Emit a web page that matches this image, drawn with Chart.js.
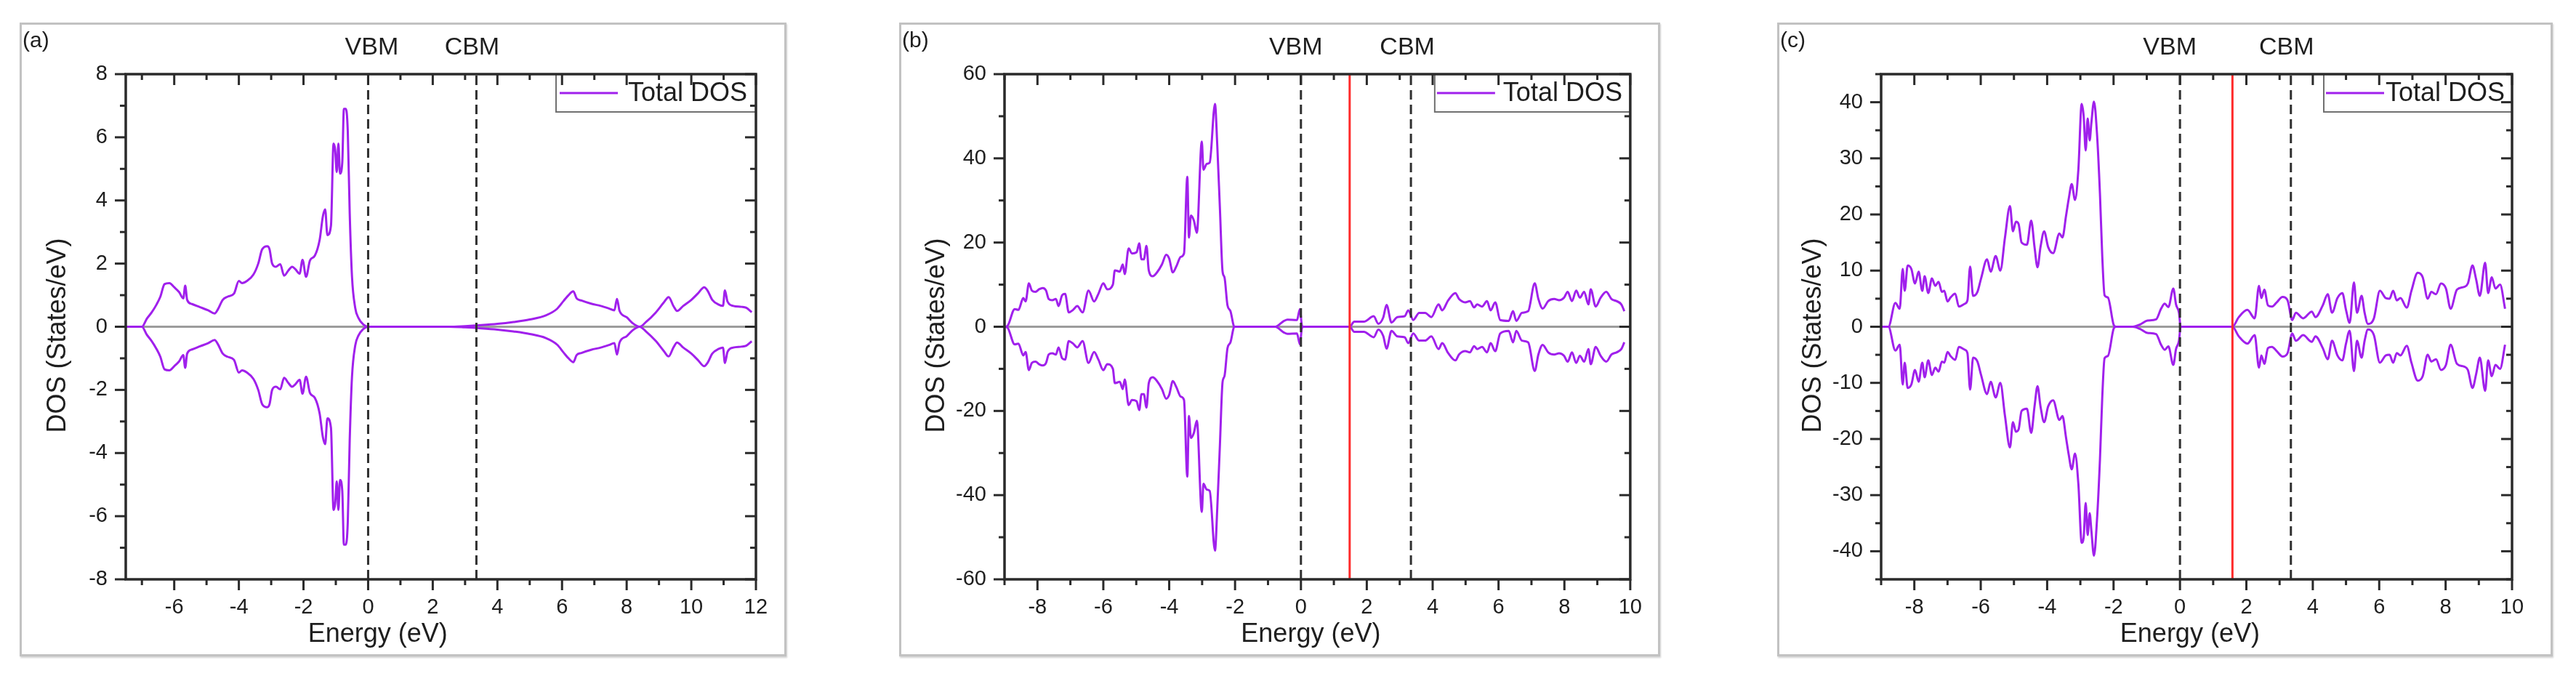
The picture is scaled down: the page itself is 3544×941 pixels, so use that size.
<!DOCTYPE html>
<html>
<head>
<meta charset="utf-8">
<title>Total DOS (a) (b) (c)</title>
<script src="https://cdn.jsdelivr.net/npm/chart.js@4/dist/chart.umd.min.js"></script>
<style>
  html, body { margin: 0; background: #fff; }
  body { width: 3544px; height: 941px; position: relative; overflow: hidden; }
  .panel { position: absolute; box-sizing: border-box; border: 3px solid #c2c2c2; box-shadow: 1px 2px 2px rgba(0,0,0,.18); background: #fff; }
  .panel canvas { display: block; }
</style>
</head>
<body>
<div class="panel" id="pa"><canvas></canvas></div>
<div class="panel" id="pb"><canvas></canvas></div>
<div class="panel" id="pc"><canvas></canvas></div>
<script>
// ---- data (energy in eV, DOS in states/eV) ----
// (a)
const aEnergy = [-7.47,-7.0,-6.85,-6.7,-6.55,-6.43,-6.3,-6.15,-6.0,-5.85,
  -5.72,-5.66,-5.6,-5.45,-5.2,-4.95,-4.75,-4.65,-4.5,-4.35,
  -4.15,-4.0,-3.9,-3.75,-3.55,-3.4,-3.28,-3.12,-3.05,-2.97,
  -2.85,-2.72,-2.6,-2.47,-2.35,-2.25,-2.12,-2.03,-1.92,-1.8,
  -1.65,-1.5,-1.4,-1.33,-1.26,-1.15,-1.07,-1.02,-0.97,-0.92,
  -0.87,-0.8,-0.75,-0.69,-0.63,-0.57,-0.5,-0.4,-0.3,-0.15,
  0,2.5,3.0,3.5,4.0,4.5,5.0,5.5,5.85,6.05,
  6.2,6.35,6.45,6.6,6.9,7.2,7.45,7.62,7.7,7.78,
  8.0,8.2,8.4,8.6,8.9,9.15,9.3,9.45,9.56,9.75,
  10.0,10.2,10.4,10.5,10.65,10.85,10.98,11.04,11.12,11.3,
  11.55,11.7,11.87];
const aUp = [0,0,0.25,0.45,0.7,0.95,1.35,1.38,1.25,1.1,
  0.9,1.3,0.85,0.72,0.62,0.52,0.42,0.55,0.85,0.95,
  1.05,1.45,1.38,1.45,1.65,2.0,2.45,2.55,2.45,2.0,
  1.9,1.98,1.62,1.78,1.9,1.82,1.68,2.12,1.58,2.1,
  2.25,2.75,3.5,3.72,2.9,3.2,5.8,5.6,4.9,5.8,
  4.85,5.2,6.9,6.9,6.2,3.6,1.6,0.6,0.28,0.07,
  0,0,0.02,0.05,0.09,0.15,0.23,0.36,0.57,0.82,
  1.0,1.12,0.9,0.83,0.73,0.66,0.58,0.52,0.88,0.5,
  0.3,0.1,0,0.15,0.45,0.77,0.94,0.65,0.5,0.66,
  0.85,1.05,1.25,1.15,0.85,0.7,0.66,1.15,0.8,0.66,
  0.63,0.6,0.46];
const aDown = [0,0,-0.25,-0.45,-0.7,-0.95,-1.35,-1.38,-1.25,-1.1,
  -0.9,-1.3,-0.85,-0.72,-0.62,-0.52,-0.42,-0.55,-0.85,-0.95,
  -1.05,-1.45,-1.38,-1.45,-1.65,-2.0,-2.45,-2.55,-2.45,-2.0,
  -1.9,-1.98,-1.62,-1.78,-1.9,-1.82,-1.68,-2.12,-1.58,-2.1,
  -2.25,-2.75,-3.5,-3.72,-2.9,-3.2,-5.8,-5.6,-4.9,-5.8,
  -4.85,-5.2,-6.9,-6.9,-6.2,-3.6,-1.6,-0.6,-0.28,-0.07,
  0,0,-0.02,-0.05,-0.09,-0.15,-0.23,-0.36,-0.57,-0.82,
  -1.0,-1.12,-0.9,-0.83,-0.73,-0.66,-0.58,-0.52,-0.88,-0.5,
  -0.3,-0.1,0,-0.15,-0.45,-0.77,-0.94,-0.65,-0.5,-0.66,
  -0.85,-1.05,-1.25,-1.15,-0.85,-0.7,-0.66,-1.15,-0.8,-0.66,
  -0.63,-0.6,-0.46];

// (b)
const bEnergy = [-8.99,-8.91,-8.69,-8.58,-8.43,-8.36,-8.26,-8.17,-8.06,-7.95,
  -7.84,-7.74,-7.66,-7.55,-7.44,-7.36,-7.25,-7.16,-7.05,-6.92,
  -6.79,-6.63,-6.45,-6.28,-6.15,-6.0,-5.88,-5.71,-5.65,-5.5,
  -5.41,-5.35,-5.23,-5.13,-4.99,-4.91,-4.84,-4.77,-4.69,-4.62,
  -4.5,-4.37,-4.22,-4.09,-4.0,-3.89,-3.78,-3.65,-3.55,-3.45,
  -3.4,-3.34,-3.25,-3.16,-3.01,-2.96,-2.86,-2.77,-2.61,-2.54,
  -2.46,-2.38,-2.32,-2.23,-2.14,-2.02,-0.78,-0.52,-0.41,-0.12,
  -0.03,0.03,0.08,1.48,1.62,1.91,2.21,2.35,2.5,2.6,
  2.75,2.93,3.15,3.26,3.41,3.59,3.77,3.96,4.18,4.29,
  4.47,4.69,4.8,4.99,5.13,5.26,5.35,5.5,5.65,5.76,
  5.9,6.05,6.31,6.44,6.54,6.71,6.9,7.1,7.21,7.34,
  7.51,7.69,7.84,7.99,8.1,8.23,8.36,8.47,8.6,8.73,
  8.8,8.95,9.1,9.27,9.43,9.58,9.73,9.82];
const bUp = [0,0.2,4.2,4.0,6.8,6.0,10.3,8.6,8.3,8.9,
  9.2,8.6,6.6,6.3,6.6,4.9,7.5,7.8,3.4,4.0,
  4.9,3.4,8.6,6.0,7.8,10.3,8.9,10.0,13.4,13.1,
  14.8,12.5,18.6,17.4,17.7,19.8,16.0,16.0,19.2,13.4,
  12.0,12.9,14.8,17.1,16.2,12.9,14.4,16.6,17.4,35.6,
  21.2,26.4,25.2,22.3,44.0,37.3,38.7,39.0,52.9,43.1,
  28.1,13.2,11.7,5.1,3.7,0,0,1.35,1.7,1.6,
  4.2,0.3,0,0,1.2,1.2,2.5,0.7,2.2,5.2,
  1.0,2.3,2.5,3.9,1.6,3.3,3.3,2.3,5.3,3.9,
  6.25,8.0,6.6,5.8,6.1,4.6,5.3,4.8,6.1,3.9,
  5.8,1.6,1.4,3.7,1.4,3.3,3.7,10.3,6.6,4.3,
  6.1,6.6,6.3,6.9,8.3,6.1,8.6,6.9,8.3,5.3,
  8.9,4.8,6.9,8.3,6.6,6.1,5.3,3.7];
const bDown = [0,-0.2,-4.2,-4.0,-6.8,-6.0,-10.3,-8.6,-8.3,-8.9,
  -9.2,-8.6,-6.6,-6.3,-6.6,-4.9,-7.5,-7.8,-3.4,-4.0,
  -4.9,-3.4,-8.6,-6.0,-7.8,-10.3,-8.9,-10.0,-13.4,-13.1,
  -14.8,-12.5,-18.6,-17.4,-17.7,-19.8,-16.0,-16.0,-19.2,-13.4,
  -12.0,-12.9,-14.8,-17.1,-16.2,-12.9,-14.4,-16.6,-17.4,-35.6,
  -21.2,-26.4,-25.2,-22.3,-44.0,-37.3,-38.7,-39.0,-53.2,-43.1,
  -28.1,-13.2,-11.7,-5.1,-3.7,0,0,-1.35,-1.7,-1.6,
  -4.2,-0.3,0,0,-1.2,-1.2,-2.5,-0.7,-2.2,-5.2,
  -1.0,-2.3,-2.5,-3.9,-1.6,-3.3,-3.3,-2.3,-5.3,-3.9,
  -6.25,-8.0,-6.6,-5.8,-6.1,-4.6,-5.3,-4.8,-6.1,-3.9,
  -5.8,-1.6,-1.0,-3.7,-1.0,-3.3,-3.7,-10.5,-6.6,-4.3,
  -6.1,-6.6,-6.3,-6.9,-8.3,-6.1,-8.6,-6.9,-8.3,-5.3,
  -8.9,-4.8,-6.9,-8.3,-6.6,-6.1,-5.3,-3.7];

// (c)
const cEnergy = [-9.05,-8.78,-8.57,-8.44,-8.35,-8.29,-8.2,-8.09,-7.98,-7.87,
  -7.76,-7.69,-7.58,-7.47,-7.37,-7.27,-7.17,-7.1,-7.0,-6.91,
  -6.77,-6.66,-6.48,-6.4,-6.32,-6.23,-6.1,-5.99,-5.81,-5.7,
  -5.55,-5.41,-5.27,-5.12,-5.03,-4.94,-4.86,-4.77,-4.61,-4.48,
  -4.38,-4.29,-4.2,-4.09,-3.97,-3.82,-3.63,-3.54,-3.43,-3.35,
  -3.26,-3.16,-3.06,-2.96,-2.9,-2.84,-2.78,-2.72,-2.67,-2.59,
  -2.5,-2.41,-2.34,-2.27,-2.17,-2.0,-1.93,-1.42,-1.2,-0.98,
  -0.72,-0.57,-0.46,-0.35,-0.2,-0.12,-0.03,0.02,1.58,1.77,
  2.03,2.25,2.38,2.45,2.54,2.65,2.77,2.9,3.09,3.24,
  3.38,3.49,3.71,3.97,4.08,4.3,4.45,4.58,4.74,4.89,
  5.0,5.11,5.24,5.33,5.47,5.56,5.66,5.84,6.02,6.2,
  6.31,6.42,6.53,6.64,6.83,6.97,7.16,7.31,7.46,7.57,
  7.71,7.86,8.01,8.15,8.34,8.56,8.67,8.81,8.92,9.03,
  9.19,9.28,9.39,9.5,9.64,9.79];
const cUp = [0,0,4.25,3.2,10.3,6.4,10.9,10.3,7.7,9.8,
  6.4,9.0,6.0,8.6,7.3,8.0,6.2,6.4,4.5,5.2,
  5.9,3.6,4.1,4.7,10.7,5.5,6.2,8.6,12.0,9.8,
  12.6,10.0,15.9,21.5,17.0,18.7,18.3,15.0,14.6,18.9,
  14.2,10.6,14.2,17.0,14.2,13.1,16.6,15.9,19.8,22.8,
  25.4,22.6,28.0,39.7,37.5,31.4,37.1,33.2,36.2,40.1,
  34.5,23.7,12.5,5.6,5.2,0.4,0,0,0.4,1.1,
  1.3,3.2,4.1,3.5,6.8,4.0,2.5,0,0,1.7,
  3.0,1.5,7.3,5.1,6.6,3.8,3.6,4.25,5.3,4.7,
  1.2,2.5,1.5,2.7,1.7,3.8,5.8,2.5,5.1,6.0,
  3.0,0.7,7.9,2.5,5.5,2.5,0.5,1.5,6.4,5.1,
  5.0,6.4,4.7,5.1,3.4,6.4,9.6,8.8,5.0,6.2,
  5.8,7.7,6.8,3.2,6.6,7.1,7.7,10.9,8.4,5.5,
  11.4,6.0,8.8,6.8,7.5,3.2];
const cDown = [0,0,-4.25,-3.2,-10.3,-6.4,-10.9,-10.3,-7.7,-9.8,
  -6.4,-9.0,-6.0,-8.6,-7.3,-8.0,-6.2,-6.4,-4.5,-5.2,
  -5.9,-3.6,-4.1,-4.7,-11.2,-5.5,-6.2,-8.6,-12.0,-9.8,
  -12.6,-10.0,-15.9,-21.5,-17.0,-18.7,-18.3,-15.0,-14.6,-18.9,
  -14.2,-10.6,-14.2,-17.0,-14.2,-13.1,-16.6,-15.9,-19.8,-22.8,
  -25.4,-22.6,-28.0,-38.5,-37.5,-31.4,-37.1,-33.2,-36.2,-40.8,
  -34.5,-23.7,-12.5,-5.6,-5.2,-0.4,0,0,-0.4,-1.1,
  -1.3,-3.2,-4.1,-3.5,-6.8,-4.0,-2.5,0,0,-1.7,
  -3.0,-1.5,-7.3,-5.1,-6.6,-3.8,-3.6,-4.25,-5.3,-4.7,
  -1.2,-2.5,-1.5,-2.7,-1.7,-3.8,-5.8,-2.5,-5.1,-6.0,
  -3.0,-0.7,-7.9,-2.5,-5.5,-2.5,-0.5,-1.5,-6.4,-5.1,
  -5.0,-6.4,-4.7,-5.1,-3.4,-6.4,-9.6,-8.8,-5.0,-6.2,
  -5.8,-7.7,-6.8,-3.2,-6.6,-7.1,-7.7,-10.9,-8.4,-5.5,
  -11.4,-6.0,-8.8,-6.8,-7.5,-3.2];

// band edges and Fermi level (eV) for (a), (b), (c)
const vbmAt = [0, 0, 0];
const cbmAt = [3.35, 3.34, 3.34];
const fermiAt = [null, 1.48, 1.58];

// axis ranges and [major, minor] tick steps
const xRanges = [[-7.5, 12], [-9, 10], [-9, 10]];
const yRanges = [[-8, 8], [-60, 60], [-45, 45]];
const xSteps = [[2, 1], [2, 1], [2, 1]];
const ySteps = [[2, 1], [20, 10], [10, 5]];
const letters = ['(a)', '(b)', '(c)'];

// ---- look ----
const INK = '#1e1e1e';
const FRAME = '#2a2a2a';
const PURPLE = '#a020ec';
const FONT = "'Liberation Sans', Arial, sans-serif";
const BORDER = 3;

// page boxes: panel frame and plot area [left, top, right, bottom]
const LAYOUT = [
  { id: 'pa', box: [27, 31, 1082, 903], plot: [173, 102, 1040, 797], legend: [275, 5, 14], tag: [5, -6] },
  { id: 'pb', box: [1237, 31, 2284, 903], plot: [1382, 102, 2246, 797], legend: [269, 3, 11], tag: [-7, -5] },
  { id: 'pc', box: [2445, 31, 3512, 903], plot: [2588, 102, 3456, 797], legend: [259, 3, 2], tag: [-14, -6] },
];

Chart.defaults.font.family = FONT;
Chart.defaults.color = INK;

const pts = (xs, ys) => xs.map((x, i) => ({ x, y: ys[i] }));
const isMajor = (v, step) => Math.abs(v / step - Math.round(v / step)) < 1e-6;
const stepsIn = (min, max, step) => {
  const out = [];
  for (let i = Math.ceil(min / step - 1e-9); i * step <= max + 1e-9; i++) out.push(i * step);
  return out;
};

// frame, in/out ticks, legend, labels
const decor = {
  id: 'decor',
  afterDraw(chart, args, o) {
    const { ctx, chartArea: a, scales: { x, y } } = chart;
    const seg = (x1, y1, x2, y2) => { ctx.beginPath(); ctx.moveTo(x1, y1); ctx.lineTo(x2, y2); ctx.stroke(); };
    ctx.save();

    // legend
    const [lw, lpad, lgap] = o.legend;
    const lx = a.right - lw, lh = 52;
    ctx.fillStyle = '#fff';
    ctx.fillRect(lx, a.top, lw, lh);
    ctx.strokeStyle = '#707070'; ctx.lineWidth = 2;
    ctx.strokeRect(lx, a.top, lw, lh);
    ctx.strokeStyle = PURPLE; ctx.lineWidth = 3;
    seg(lx + lpad, a.top + 26, lx + lpad + 80, a.top + 26);
    ctx.fillStyle = INK; ctx.font = `36px ${FONT}`;
    ctx.textAlign = 'left'; ctx.textBaseline = 'middle';
    ctx.fillText(chart.data.datasets[1].label, lx + lpad + 80 + lgap, a.top + 27);

    // ticks: bottom/left outward, top/right inward
    ctx.strokeStyle = FRAME; ctx.lineWidth = 3;
    for (const v of stepsIn(x.min, x.max, o.xStep[1])) {
      const px = x.getPixelForValue(v), len = isMajor(v, o.xStep[0]) ? 15 : 8;
      seg(px, a.bottom, px, a.bottom + len);
      seg(px, a.top, px, a.top + len);
    }
    for (const v of stepsIn(y.min, y.max, o.yStep[1])) {
      const py = y.getPixelForValue(v), len = isMajor(v, o.yStep[0]) ? 15 : 8;
      seg(a.left, py, a.left - len, py);
      seg(a.right, py, a.right - len, py);
    }
    ctx.lineWidth = 3.5;
    ctx.strokeRect(a.left, a.top, a.right - a.left, a.bottom - a.top);

    // VBM / CBM tags
    ctx.fillStyle = INK; ctx.font = `34px ${FONT}`; ctx.textAlign = 'center';
    ctx.fillText('VBM', x.getPixelForValue(o.vbm) + o.tag[0], a.top - 36);
    ctx.fillText('CBM', x.getPixelForValue(o.cbm) + o.tag[1], a.top - 36);

    // panel letter
    ctx.font = `30px ${FONT}`; ctx.textAlign = 'left';
    ctx.fillText(o.letter, 1, a.top - 45);

    // axis titles
    ctx.font = `36px ${FONT}`; ctx.textAlign = 'center';
    ctx.fillText('Energy (eV)', x.getPixelForValue(0.3), a.bottom + 76);
    ctx.translate(a.left - 93, (a.top + a.bottom) / 2 + 12);
    ctx.rotate(-Math.PI / 2);
    ctx.fillText('DOS (States/eV)', 0, 0);
    ctx.restore();
  }
};

function build(i, energy, up, down) {
  const L = LAYOUT[i];
  const [bl, bt, br, bb] = L.box;
  const [pl, pt, pr, pb] = L.plot;
  const wrap = document.getElementById(L.id);
  Object.assign(wrap.style, { left: bl + 'px', top: bt + 'px', width: (br - bl) + 'px', height: (bb - bt) + 'px' });
  const W = br - bl - 2 * BORDER, H = bb - bt - 2 * BORDER;
  const ox = bl + BORDER, oy = bt + BORDER;
  const cv = wrap.querySelector('canvas');
  cv.width = W; cv.height = H;
  cv.style.width = W + 'px'; cv.style.height = H + 'px';
  const leftW = pl - ox, bottomH = oy + H - pb;

  const [x0, x1] = xRanges[i], [y0, y1] = yRanges[i];
  const line = (data, color, width, order, dash) => ({
    data, borderColor: color, borderWidth: width, borderDash: dash || [],
    pointRadius: 0, order, tension: 0, fill: false,
  });
  const datasets = [
    { ...line([{ x: x0, y: 0 }, { x: x1, y: 0 }], '#9c9c9c', 3, 5), label: 'zero' },
    { ...line(pts(energy, up), PURPLE, 3, 3), label: 'Total DOS', cubicInterpolationMode: 'monotone' },
    { ...line(pts(energy, down), PURPLE, 3, 3), label: 'spin down', cubicInterpolationMode: 'monotone' },
    { ...line([{ x: vbmAt[i], y: y0 }, { x: vbmAt[i], y: y1 }], '#303030', 3, 1, [13, 7]), label: 'VBM' },
    { ...line([{ x: cbmAt[i], y: y0 }, { x: cbmAt[i], y: y1 }], '#303030', 3, 1, [13, 7]), label: 'CBM' },
  ];
  if (fermiAt[i] != null) {
    datasets.push({ ...line([{ x: fermiAt[i], y: y0 }, { x: fermiAt[i], y: y1 }], '#ff2a2a', 3, 1), label: 'EF' });
  }

  const tickFont = { size: 29, family: FONT };
  new Chart(cv, {
    type: 'line',
    data: { datasets },
    options: {
      responsive: false,
      animation: false,
      devicePixelRatio: 1,
      layout: { padding: { left: 0, top: pt - oy, right: ox + W - pr, bottom: 0 } },
      plugins: {
        legend: { display: false },
        tooltip: { enabled: false },
        decor: {
          xStep: xSteps[i], yStep: ySteps[i], legend: L.legend, tag: L.tag,
          vbm: vbmAt[i], cbm: cbmAt[i], letter: letters[i],
        },
      },
      scales: {
        x: {
          type: 'linear', min: x0, max: x1,
          afterFit: s => { s.height = bottomH; },
          grid: { display: false, drawTicks: false }, border: { display: false },
          ticks: {
            stepSize: xSteps[i][1], autoSkip: false, maxRotation: 0, padding: 22,
            font: tickFont, color: INK,
            callback: v => isMajor(v, xSteps[i][0]) ? String(Math.round(v)) : '',
          },
        },
        y: {
          type: 'linear', min: y0, max: y1,
          afterFit: s => { s.width = leftW; },
          grid: { display: false, drawTicks: false }, border: { display: false },
          ticks: {
            stepSize: ySteps[i][1], autoSkip: false, padding: 25,
            font: tickFont, color: INK,
            callback: v => isMajor(v, ySteps[i][0]) ? String(Math.round(v)) : '',
          },
        },
      },
    },
    plugins: [decor],
  });
}

build(0, aEnergy, aUp, aDown);
build(1, bEnergy, bUp, bDown);
build(2, cEnergy, cUp, cDown);
</script>
</body>
</html>
